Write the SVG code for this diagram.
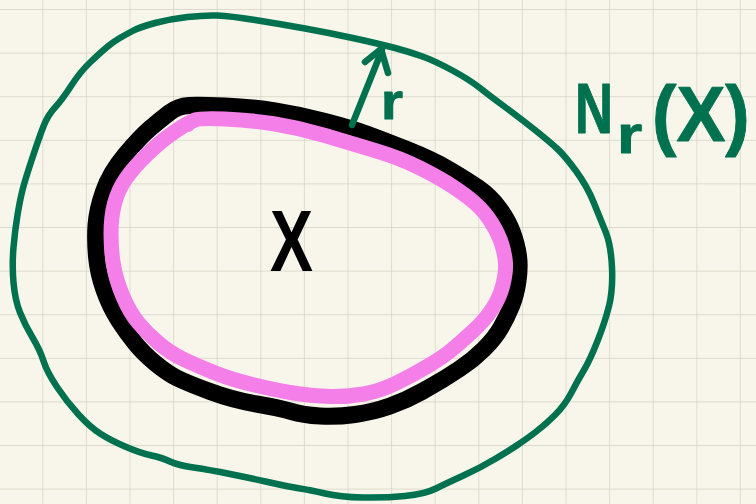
<svg xmlns="http://www.w3.org/2000/svg" width="756" height="504" viewBox="0 0 756 504">
<style>
.ink{fill:none;stroke-linecap:round;stroke-linejoin:round}
.g{stroke:#00714f;stroke-width:6.5}
.k{stroke:#000;stroke-width:17}
.p{stroke:#f57fe8;stroke-width:15}
.t{font-family:"Liberation Sans",Arial,sans-serif;font-weight:bold;stroke-linejoin:round}
.gt{fill:#00714f;stroke:#00714f;stroke-width:1}
</style>
<defs>
<pattern id="grid" x="42.3" y="9" width="43.6" height="43.6" patternUnits="userSpaceOnUse">
<path d="M0 0H43.6M0 0V43.6" fill="none" stroke="#d3d0c3" stroke-width="1.4"/>
</pattern>
</defs>
<rect width="756" height="504" fill="#f8f6ea"/>
<rect width="756" height="504" fill="url(#grid)"/>
<g id="neighbourhood">
<path class="ink g" d="M119,38.5 Q125,35 132.5,31 Q140,27 155,23 Q170,19 187.5,17 Q205,15 217.5,15.5 Q230,16 255,20 Q280,24 305,28.5 Q330,33 355,38.5 Q380,44 395,48 Q410,52 422.5,56.5 Q435,61 452.5,70.5 Q470,80 480,88 Q490,96 505,107 Q520,118 535,130 Q550,142 557.5,149 Q565,156 576,171 Q587,186 593.5,202 Q600,218 605.5,231.5 Q611,245 612,267.5 Q613,290 609,306 Q605,322 597.5,341 Q590,360 584,370 Q578,380 571.5,392.5 Q565,405 555,415 Q545,425 535,432.5 Q525,440 517.5,445 Q510,450 495,459 Q480,468 463.5,475.5 Q447,483 436,488.5 Q425,494 405,496 Q385,498 362.5,497.5 Q340,497 325,493.5 Q310,490 300,488.5 Q290,487 270,482.5 Q250,478 230,474 Q210,470 193.5,467.5 Q177,465 170,461.5 Q163,458 151.5,455.5 Q140,453 125,446.5 Q110,440 100,433.5 Q90,427 78.5,414.5 Q67,402 57,387 Q47,372 43.5,361 Q40,350 32.5,337.5 Q25,325 20,312.5 Q15,300 13.5,282.5 Q12,265 13.5,247.5 Q15,230 17.5,215 Q20,200 22.5,190 Q25,180 32.5,157.5 Q40,135 44,125 Q48,115 55,107.5 Q62,100 71,86 Q80,72 90,62.5 Q100,53 106.5,47.5 Q113,42 119,38.5 Z"/>
</g>
<g id="set-X">
<path class="ink k" d="M189,105.5 Q200,105 225,106 Q250,107 275,111 Q300,115 325,121.5 Q350,128 366.5,134 Q383,140 408,150 Q433,160 450,170 Q467,180 478.5,188 Q490,196 499,208 Q508,220 512.5,232.5 Q517,245 518.5,256 Q520,267 518,281 Q516,295 511.5,306 Q507,317 501,327.5 Q495,338 484,349 Q473,360 460,368.5 Q447,377 442,380 Q437,383 422,391.5 Q407,400 390,406 Q373,412 355,414.5 Q337,417 320,416 Q303,415 291.5,411.5 Q280,408 256.5,404 Q233,400 210,391.5 Q187,383 177,378 Q167,373 155,363 Q143,353 135,343 Q127,333 118.5,320 Q110,307 104,290 Q98,273 96.5,256.5 Q95,240 96,225 Q97,210 103.5,191.5 Q110,173 125,155 Q140,137 150,128.5 Q160,120 169,113 Q178,106 189,105.5 Z"/>
<path class="ink p" d="M195,120 Q200,118 225,119 Q250,120 275,124 Q300,128 325,135.5 Q350,143 375,150.5 Q400,158 420,168 Q440,178 453.5,187 Q467,196 476,204 Q485,212 492,223.5 Q499,235 502,245 Q505,255 505.5,263.5 Q506,272 503,284.5 Q500,297 492.5,308.5 Q485,320 472.5,331.5 Q460,343 451.5,350 Q443,357 428,366 Q413,375 396.5,383 Q380,391 363.5,394 Q347,397 330,396.5 Q313,396 296.5,393.5 Q280,391 256.5,385.5 Q233,380 216.5,373.5 Q200,367 185,360 Q170,353 158.5,343 Q147,333 138.5,323 Q130,313 123,296.5 Q116,280 113.5,265 Q111,250 111,233.5 Q111,217 114.5,203.5 Q118,190 126,178.5 Q134,167 147,154.5 Q160,142 170,135 Q180,128 185,125 Q190,122 195,120 Z"/>
<circle cx="188" cy="125" r="7" fill="#f57fe8"/>
<text class="t" x="270" y="271" font-size="88" textLength="43" lengthAdjust="spacingAndGlyphs" fill="#000">X</text>
</g>
<g id="connectors">
<path class="ink g" d="M352,125 L382,50 M365,62 L381,49 L388,73"/>
</g>
<g id="label-r">
<text class="t gt" x="381" y="119" font-size="52" textLength="22" lengthAdjust="spacingAndGlyphs">r</text>
</g>
<g id="label-NrX">
<text class="t gt" transform="translate(575,133) scale(0.75,1)" font-size="70">N</text>
<text class="t gt" transform="translate(617,153) scale(1.2,1)" font-size="54">r</text>
<text class="t gt" transform="translate(652,141) scale(0.94,1)" font-size="78">(X)</text>
</g>
</svg>
